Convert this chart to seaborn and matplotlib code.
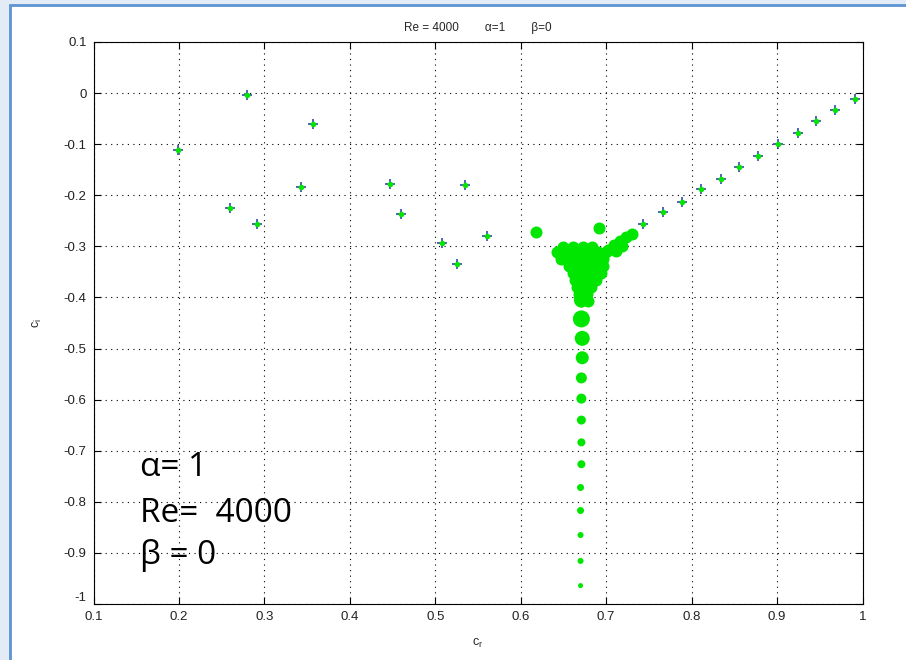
import matplotlib
matplotlib.use("Agg")
import matplotlib.pyplot as plt
from matplotlib.patches import Rectangle
import numpy as np
import pandas as pd
import seaborn as sns

# Discrete (physical) eigenvalues c = c_r + i c_i
mode_cr = [0.199, 0.280, 0.357, 0.260, 0.291, 0.343, 0.447, 0.460, 0.508, 0.525,
           0.535, 0.560,
           0.743, 0.766, 0.789, 0.811, 0.834, 0.856, 0.878, 0.901, 0.924, 0.946,
           0.968, 0.991]
mode_ci = [-0.111, -0.004, -0.061, -0.224, -0.257, -0.184, -0.177, -0.236, -0.293, -0.334,
           -0.179, -0.280,
           -0.257, -0.233, -0.2125, -0.188, -0.1675, -0.144, -0.124, -0.100, -0.0775, -0.055,
           -0.034, -0.012]

# Continuous-spectrum cloud near the junction of the branches
cloud_cr = [0.618, 0.692,
            0.649, 0.661, 0.673, 0.684,
            0.642, 0.650, 0.658, 0.667, 0.675, 0.683, 0.691, 0.700,
            0.647, 0.655, 0.663, 0.672, 0.680, 0.688, 0.696,
            0.656, 0.664, 0.673, 0.681, 0.689, 0.696,
            0.661, 0.669, 0.677, 0.686, 0.694,
            0.664, 0.672, 0.680, 0.688,
            0.666, 0.674, 0.682,
            0.668, 0.677,
            0.670, 0.679,
            0.702, 0.709, 0.716, 0.723, 0.730, 0.711, 0.719]
cloud_ci = [-0.271, -0.264,
            -0.301, -0.301, -0.301, -0.301,
            -0.311, -0.311, -0.311, -0.311, -0.311, -0.311, -0.311, -0.311,
            -0.325, -0.325, -0.325, -0.325, -0.325, -0.325, -0.325,
            -0.338, -0.338, -0.338, -0.338, -0.338, -0.338,
            -0.352, -0.352, -0.352, -0.352, -0.352,
            -0.366, -0.366, -0.366, -0.366,
            -0.379, -0.379, -0.379,
            -0.393, -0.393,
            -0.407, -0.407,
            -0.307, -0.297, -0.289, -0.282, -0.276, -0.309, -0.299]

# Vertical branch of the continuous spectrum
branch_cr = [0.671, 0.671, 0.672, 0.672, 0.671, 0.671, 0.671, 0.671,
             0.671, 0.670, 0.670, 0.670, 0.670, 0.670]
branch_ci = [-0.405, -0.442, -0.480, -0.518, -0.5575, -0.598, -0.640, -0.6836,
             -0.7264, -0.772, -0.817, -0.865, -0.9157, -0.964]

x_ticks = [0.1, 0.2, 0.3, 0.4, 0.5, 0.6, 0.7, 0.8, 0.9, 1.0]
x_tick_labels = ["0.1", "0.2", "0.3", "0.4", "0.5", "0.6", "0.7", "0.8", "0.9", "1"]
y_ticks = [0.1, 0, -0.1, -0.2, -0.3, -0.4, -0.5, -0.6, -0.7, -0.8, -0.9, -1.0]
y_tick_labels = ["0.1", "0", "-0.1", "-0.2", "-0.3", "-0.4", "-0.5", "-0.6",
                 "-0.7", "-0.8", "-0.9", "-1"]

title_text = "Re = 4000        \u03b1=1        \u03b2=0"
note_lines = ["\u03b1= 1", "Re=  4000", "\u03b2 = 0"]
note_ci = [-0.732, -0.822, -0.906]

sns.set_theme(style="white")
plt.rcParams["font.family"] = ["Liberation Sans", "DejaVu Sans"]

fig = plt.figure(figsize=(9.06, 6.60), dpi=100)
fig.patch.set_facecolor("white")
# window frame
fig.patches.append(Rectangle((0, 0), 1, 1, transform=fig.transFigure,
                             facecolor="#e2ebf6", edgecolor="none", zorder=-10))
fig.patches.append(Rectangle((10 / 906, -0.01), 1.0, 1 - 5 / 660 + 0.01,
                             transform=fig.transFigure, facecolor="white",
                             edgecolor="#5e93d3", linewidth=2.0, zorder=-9))

ax = fig.add_axes([93.5 / 906, 1 - 604 / 660, (862.5 - 93.5) / 906, (604 - 42) / 660])
ax.set_facecolor("white")

modes = pd.DataFrame({"cr": mode_cr, "ci": mode_ci})
cloud = pd.DataFrame({"cr": cloud_cr, "ci": cloud_ci})
branch = pd.DataFrame({"cr": branch_cr, "ci": branch_ci})

green = "#00e600"
blue = "#1d3d9e"

def px_area(d):
    return (0.72 * d) ** 2

# cloud blobs
sns.scatterplot(data=cloud, x="cr", y="ci", ax=ax, color=green, marker="o",
                s=px_area(12), linewidth=0, zorder=3, legend=False)
blob_px = [15, 17, 15, 13, 11, 10, 9, 8, 8, 7, 7, 6, 6, 5]
sns.scatterplot(data=branch, x="cr", y="ci", ax=ax, color=green, marker="o",
                s=[px_area(d) for d in blob_px], linewidth=0, zorder=3, legend=False)

# physical modes: blue cross with green dot
sns.scatterplot(data=modes, x="cr", y="ci", ax=ax, color=blue, marker="+",
                s=px_area(10), linewidth=1.1, zorder=4, legend=False)
sns.scatterplot(data=modes, x="cr", y="ci", ax=ax, color=green, marker="o",
                s=px_area(5.5), linewidth=0, zorder=5, legend=False)

ax.set_xlim(0.1, 1.0)
ax.set_ylim(-1.0, 0.1)
ax.set_xticks(x_ticks)
ax.set_xticklabels(x_tick_labels)
ax.set_yticks(y_ticks)
ax.set_yticklabels(y_tick_labels)
ax.tick_params(axis="both", direction="in", length=5, width=0.8, colors="black",
               labelcolor="#222222", labelsize=9.5, top=True, right=True,
               bottom=True, left=True)
ax.tick_params(axis="x", pad=5)
ax.tick_params(axis="y", pad=5)
ax.grid(True, color="black", linestyle=(0, (1, 4)), linewidth=0.8)
for s in ax.spines.values():
    s.set_visible(True)
    s.set_color("black")
    s.set_linewidth(0.8)
# the bottom-left y label sits slightly raised so it clears the first x label
ax.get_yticklabels()[-1].set_va("bottom")

ax.set_xlabel("c$_\\mathregular{r}$", fontsize=9, labelpad=10)
ax.set_ylabel("c$_\\mathregular{i}$", fontsize=9, labelpad=14)
ax.set_title(title_text, fontsize=8.5, pad=8)

for txt, yv in zip(note_lines, note_ci):
    ax.text(0.1545, yv, txt, fontsize=24, va="center", ha="left",
            family=["Open Sans", "DejaVu Sans"], color="black", zorder=6)

fig.savefig("out.png", dpi=100, facecolor=fig.get_facecolor())
